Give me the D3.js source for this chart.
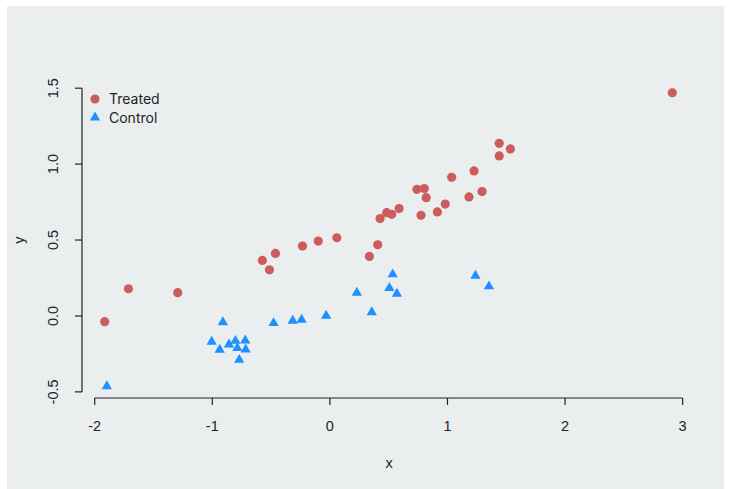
<!DOCTYPE html>
<html lang="en">
<head>
    <meta charset="UTF-8">
    <title>Treated vs Control</title>
    <script src="https://d3js.org/d3.v7.min.js"></script>
    <style>
        body { margin: 0; background: #fff; }
        .tick-label { font-family: "Liberation Sans", Arial, sans-serif; font-size: 14.5px; fill: #222; }
        .legend-label { font-family: Inter, "Open Sans", sans-serif; font-size: 14px; fill: #222; }
    </style>
</head>
<body>
    <div id="chart"></div>

    <script>
        // data
        var treatedX = [-1.915, -1.713, -1.294, -0.574, -0.514, -0.463, -0.233, -0.099, 0.059, 0.336,
                        0.407, 0.427, 0.483, 0.526, 0.589, 0.740, 0.803, 0.819, 0.775, 0.914,
                        0.981, 1.036, 1.183, 1.226, 1.294, 1.440, 1.440, 1.535, 2.912];
        var treatedY = [-0.038, 0.179, 0.153, 0.366, 0.304, 0.412, 0.460, 0.493, 0.515, 0.392,
                        0.469, 0.641, 0.680, 0.669, 0.707, 0.834, 0.839, 0.779, 0.663, 0.685,
                        0.737, 0.913, 0.784, 0.955, 0.819, 1.137, 1.054, 1.100, 1.470];
        var controlX = [-1.897, -1.005, -0.937, -0.910, -0.858, -0.803, -0.787, -0.771, -0.720, -0.716,
                        -0.479, -0.316, -0.241, -0.032, 0.229, 0.356, 0.506, 0.534, 0.570, 1.238, 1.353];
        var controlY = [-0.463, -0.170, -0.223, -0.041, -0.188, -0.164, -0.212, -0.289, -0.162, -0.221,
                        -0.047, -0.032, -0.025, 0.001, 0.153, 0.025, 0.184, 0.274, 0.146, 0.265, 0.195];
        var xTicks = [-2, -1, 0, 1, 2, 3];
        var yTicks = [-0.5, 0.0, 0.5, 1.0, 1.5];
        var groups = ["Treated", "Control"];
        var colors = ["#cd5c5c", "#1e90ff"];

        var width = 731,
            height = 489;

        var svg = d3.select("#chart").append("svg")
            .attr("width", width)
            .attr("height", height);

        // panel background
        svg.append("rect")
            .attr("x", 7).attr("y", 6)
            .attr("width", 717).attr("height", 483)
            .attr("fill", "#ebeeef");

        // R style: pad data range by 4%
        function padded(vals) {
            var ext = d3.extent(vals), d = (ext[1] - ext[0]) * 0.04;
            return [ext[0] - d, ext[1] + d];
        }
        var x = d3.scaleLinear()
            .domain(padded(treatedX.concat(controlX)))
            .range([82, 695]);
        var y = d3.scaleLinear()
            .domain(padded(treatedY.concat(controlY)))
            .range([398, 81]);

        // plain hyphen for negatives, like R does
        var fmtX = function(d) { return d3.format("d")(d).replace("\u2212", "-"); };
        var fmtY = function(d) { return d3.format(".1f")(d).replace("\u2212", "-"); };

        // x axis
        var gx = svg.append("g").attr("stroke", "#222").attr("stroke-width", 1.2);
        gx.append("line")
            .attr("x1", x(xTicks[0])).attr("x2", x(xTicks[xTicks.length - 1]))
            .attr("y1", 398).attr("y2", 398);
        gx.selectAll(".t").data(xTicks).enter().append("line")
            .attr("x1", function(d) { return x(d); }).attr("x2", function(d) { return x(d); })
            .attr("y1", 398).attr("y2", 405);
        svg.selectAll(".xl").data(xTicks).enter().append("text")
            .attr("class", "tick-label")
            .attr("x", function(d) { return x(d); })
            .attr("y", 431)
            .attr("text-anchor", "middle")
            .text(fmtX);

        // y axis
        var gy = svg.append("g").attr("stroke", "#222").attr("stroke-width", 1.2);
        gy.append("line")
            .attr("x1", 82).attr("x2", 82)
            .attr("y1", y(yTicks[0])).attr("y2", y(yTicks[yTicks.length - 1]));
        gy.selectAll(".t").data(yTicks).enter().append("line")
            .attr("x1", 75).attr("x2", 82)
            .attr("y1", function(d) { return y(d); }).attr("y2", function(d) { return y(d); });
        svg.selectAll(".yl").data(yTicks).enter().append("text")
            .attr("class", "tick-label")
            .attr("transform", function(d) { return "translate(58," + y(d) + ") rotate(-90)"; })
            .attr("text-anchor", "middle")
            .text(fmtY);

        // axis titles
        svg.append("text").attr("class", "tick-label")
            .attr("x", 389).attr("y", 468)
            .attr("text-anchor", "middle")
            .text("x");
        svg.append("text").attr("class", "tick-label")
            .attr("transform", "translate(24,240) rotate(-90)")
            .attr("text-anchor", "middle")
            .text("y");

        var tri = d3.symbol().type(d3.symbolTriangle).size(46);

        // points
        svg.selectAll(".treated").data(d3.range(treatedX.length)).enter().append("circle")
            .attr("cx", function(i) { return x(treatedX[i]); })
            .attr("cy", function(i) { return y(treatedY[i]); })
            .attr("r", 4.6)
            .attr("fill", colors[0]);

        svg.selectAll(".control").data(d3.range(controlX.length)).enter().append("path")
            .attr("d", tri)
            .attr("transform", function(i) { return "translate(" + x(controlX[i]) + "," + y(controlY[i]) + ")"; })
            .attr("fill", colors[1]);

        // legend
        var legend = svg.append("g").attr("transform", "translate(95,99)");
        legend.append("circle").attr("cx", 0).attr("cy", 0).attr("r", 4.6).attr("fill", colors[0]);
        legend.append("path").attr("d", tri).attr("transform", "translate(0,18.5)").attr("fill", colors[1]);
        legend.selectAll("text").data(groups).enter().append("text")
            .attr("class", "legend-label")
            .attr("x", 14)
            .attr("y", function(d, i) { return i * 18.5 + 5; })
            .text(function(d) { return d; });
    </script>
</body>
</html>
